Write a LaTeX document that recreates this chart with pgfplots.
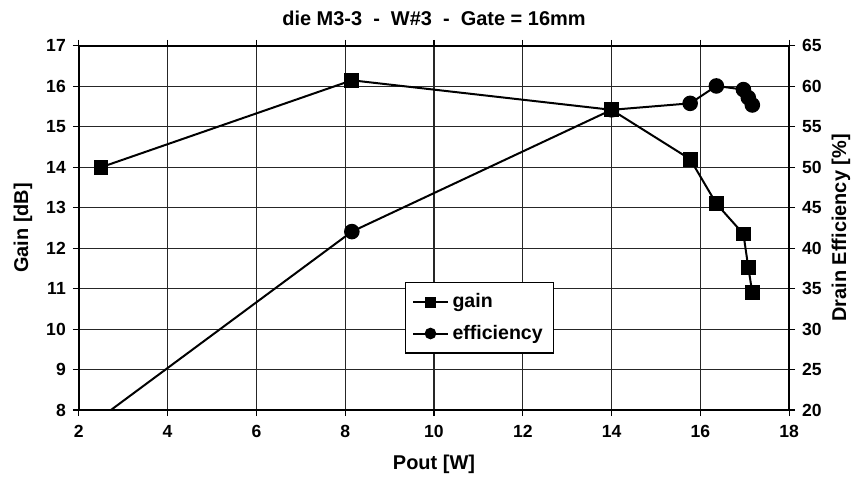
\documentclass[border=0pt]{standalone}
\usepackage{fontspec}
\setmainfont{Liberation Sans}
\usepackage{pgfplots}
\pgfplotsset{compat=1.18}

\pgfplotsset{
  common/.style={
    scale only axis,
    width=356pt, height=182.5pt,
    xmin=2, xmax=18,
    xtick={2,4,...,18},
    tick align=outside,
    major tick length=3pt,
    tick style={black, line width=0.6pt},
    axis line style={black, line width=0.7pt},
    ticklabel style={font=\bfseries\fontsize{8.8}{10}\selectfont},
    /pgf/number format/assume math mode=true,
  },
}

\begin{document}
\begin{tikzpicture}
% gain, left axis
\begin{axis}[
  common,
  name=main,
  ymin=8, ymax=17,
  ytick={8,...,17},
  axis y line*=left,
  grid=major,
  grid style={black!85, line width=0.6pt},
  xticklabel style={yshift=-1pt},
]
\addplot[black, line width=1pt, mark=square*, mark size=3.2pt] coordinates {
  (2.5,14.0) (8.15,16.15) (14.0,15.42) (15.77,14.2) (16.36,13.1)
  (16.97,12.35) (17.08,11.52) (17.17,10.9)
};
\end{axis}
% drain efficiency, right axis
\begin{axis}[
  common,
  ymin=20, ymax=65,
  ytick={20,25,...,65},
  axis y line*=right,
  axis x line=none,
  legend style={at={(rel axis cs:0.459,0.351)}, anchor=north west,
    draw=black, line width=0.6pt, fill=white,
    font=\bfseries\fontsize{9.8}{11}\selectfont,
    row sep=3pt, inner sep=3.5pt},
  legend cell align=left,
  legend image post style={mark size=2.4pt},
]
\addlegendimage{black, line width=1pt, mark=square*, mark size=3.2pt}
\addlegendentry{gain}
\addplot[black, line width=1pt, mark=*, mark size=3.4pt] coordinates {
  (2.5,19.1) (8.15,42.05) (14.0,57.1) (15.77,57.9) (16.36,60.05)
  (16.97,59.6) (17.08,58.6) (17.17,57.7)
};
\addlegendentry{efficiency}
\end{axis}
\node[font=\bfseries\fontsize{10}{12}\selectfont] at ([yshift=14pt]main.north) {die M3-3 \ - \ W\#3 \ - \ Gate = 16mm};
\node[font=\bfseries\fontsize{10}{12}\selectfont, rotate=90] at ([xshift=-28pt]main.west) {Gain [dB]};
\node[font=\bfseries\fontsize{10}{12}\selectfont, rotate=90] at ([xshift=26pt]main.east) {Drain Efficiency [\%]};
\node[font=\bfseries\fontsize{10}{12}\selectfont] at ([yshift=-27pt]main.south) {Pout [W]};
\path (main.south west) ++(-39.5pt,-35pt) rectangle ++(428.5pt,240.5pt);
\end{tikzpicture}
\end{document}
